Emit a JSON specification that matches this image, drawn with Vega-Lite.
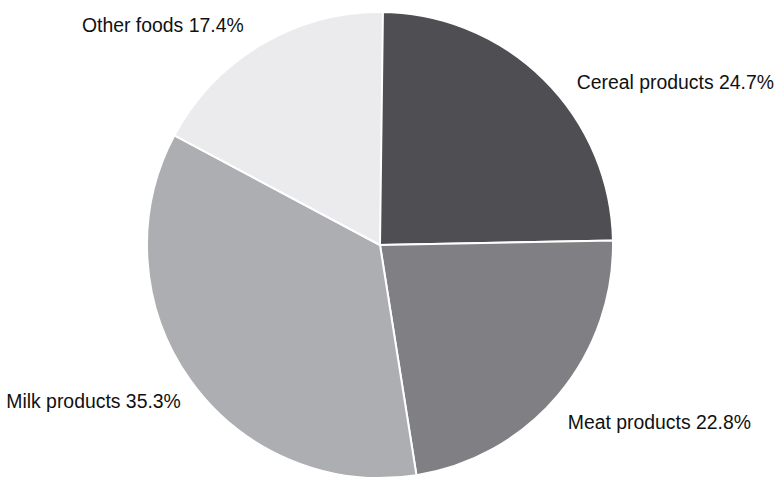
{
  "$schema": "https://vega.github.io/schema/vega-lite/v6.json",
  "autosize": "none",
  "width": 760,
  "height": 466,
  "padding": {"left": 0, "top": 12, "right": 15, "bottom": 0},
  "background": "white",
  "config": {"view": {"stroke": null}},
  "data": {
    "values": [
      {"category": "Cereal products", "share": 24.7, "order": 1, "side": "right"},
      {"category": "Meat products", "share": 22.8, "order": 2, "side": "right"},
      {"category": "Milk products", "share": 35.3, "order": 3, "side": "left"},
      {"category": "Other foods", "share": 17.4, "order": 4, "side": "left"}
    ]
  },
  "transform": [
    {"calculate": "datum.category + ' ' + format(datum.share, '.1f') + '%'", "as": "label"},
    {"stack": "share", "groupby": [], "sort": [{"field": "order", "order": "ascending"}], "as": ["s0", "s1"]},
    {"calculate": "(datum.s0 + datum.s1) / 2", "as": "mid"}
  ],
  "layer": [
    {
      "mark": {"type": "arc", "radius": 233, "stroke": "white", "strokeWidth": 2},
      "encoding": {
        "theta": {"field": "s0", "type": "quantitative", "scale": {"domain": [0, 100]}, "stack": null},
        "theta2": {"field": "s1"},
        "color": {
          "field": "category",
          "type": "nominal",
          "scale": {
            "domain": ["Cereal products", "Meat products", "Milk products", "Other foods"],
            "range": ["#4f4e53", "#807f83", "#adaeb1", "#ebebed"]
          },
          "legend": null
        }
      }
    },
    {
      "transform": [{"filter": "datum.category == 'Cereal products'"}],
      "mark": {"type": "text", "radius": 258, "align": "left", "baseline": "middle", "font": "Liberation Sans", "fontSize": 19.4, "fill": "#111111", "dx": 16, "dy": 22},
      "encoding": {
        "theta": {"field": "mid", "type": "quantitative", "scale": {"domain": [0, 100]}, "stack": null},
        "text": {"field": "label", "type": "nominal"}
      }
    },
    {
      "transform": [{"filter": "datum.category == 'Meat products'"}],
      "mark": {"type": "text", "radius": 258, "align": "left", "baseline": "middle", "font": "Liberation Sans", "fontSize": 19.4, "fill": "#111111", "dx": -10, "dy": 12},
      "encoding": {
        "theta": {"field": "mid", "type": "quantitative", "scale": {"domain": [0, 100]}, "stack": null},
        "text": {"field": "label", "type": "nominal"}
      }
    },
    {
      "transform": [{"filter": "datum.category == 'Milk products'"}],
      "mark": {"type": "text", "radius": 258, "align": "right", "baseline": "middle", "font": "Liberation Sans", "fontSize": 19.4, "fill": "#111111", "dx": 11, "dy": 7},
      "encoding": {
        "theta": {"field": "mid", "type": "quantitative", "scale": {"domain": [0, 100]}, "stack": null},
        "text": {"field": "label", "type": "nominal"}
      }
    },
    {
      "transform": [{"filter": "datum.category == 'Other foods'"}],
      "mark": {"type": "text", "radius": 258, "align": "right", "baseline": "middle", "font": "Liberation Sans", "fontSize": 19.4, "fill": "#111111", "dx": -5, "dy": 3},
      "encoding": {
        "theta": {"field": "mid", "type": "quantitative", "scale": {"domain": [0, 100]}, "stack": null},
        "text": {"field": "label", "type": "nominal"}
      }
    }
  ]
}
